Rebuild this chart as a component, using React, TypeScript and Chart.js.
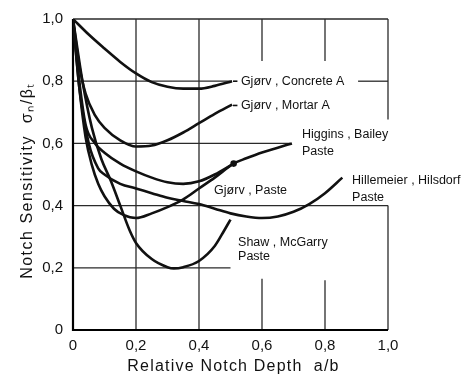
import React, { useEffect, useRef } from "react";
import { Chart, registerables } from "chart.js";

Chart.register(...registerables);

// ---- Data (x = relative notch depth a/b, y = sigma_n/beta_t) ----
const concreteAX = [0, 0.05, 0.1, 0.15, 0.2, 0.25, 0.3, 0.35, 0.4, 0.45, 0.505];
const concreteAY = [1.0, 0.95, 0.905, 0.862, 0.825, 0.797, 0.782, 0.776, 0.776, 0.785, 0.8];

const mortarAX = [0, 0.02, 0.04, 0.07, 0.1, 0.15, 0.2, 0.25, 0.3, 0.35, 0.4, 0.45, 0.505];
const mortarAY = [1.0, 0.85, 0.76, 0.69, 0.65, 0.61, 0.59, 0.593, 0.61, 0.635, 0.665, 0.695, 0.725];

const gjorvPasteX = [0, 0.02, 0.04, 0.07, 0.1, 0.15, 0.2, 0.25, 0.3, 0.35, 0.4, 0.45, 0.51];
const gjorvPasteY = [1.0, 0.8, 0.66, 0.6, 0.57, 0.535, 0.51, 0.49, 0.475, 0.47, 0.478, 0.5, 0.535];

const higginsX = [0, 0.02, 0.04, 0.06, 0.08, 0.1, 0.13, 0.16, 0.2, 0.25, 0.3, 0.35, 0.4, 0.45, 0.51, 0.55, 0.6, 0.65, 0.695];
const higginsY = [1.0, 0.78, 0.62, 0.53, 0.47, 0.43, 0.39, 0.37, 0.36, 0.375, 0.395, 0.42, 0.455, 0.49, 0.535, 0.552, 0.571, 0.586, 0.6];

const hillemeierX = [0, 0.02, 0.05, 0.08, 0.1, 0.15, 0.2, 0.25, 0.3, 0.35, 0.4, 0.45, 0.5, 0.55, 0.6, 0.65, 0.7, 0.75, 0.8, 0.855];
const hillemeierY = [1.0, 0.78, 0.6, 0.52, 0.5, 0.47, 0.455, 0.44, 0.425, 0.415, 0.405, 0.39, 0.375, 0.365, 0.36, 0.365, 0.38, 0.405, 0.44, 0.49];

const shawX = [0, 0.03, 0.06, 0.09, 0.12, 0.15, 0.18, 0.2, 0.25, 0.3, 0.32, 0.35, 0.4, 0.45, 0.48, 0.5];
const shawY = [1.0, 0.8, 0.65, 0.55, 0.48, 0.4, 0.32, 0.28, 0.228, 0.202, 0.198, 0.202, 0.222, 0.27, 0.32, 0.355];

const tickValues = [0, 0.2, 0.4, 0.6, 0.8, 1.0];
const seriesNames = [
  "Gjørv , Concrete A",
  "Gjørv , Mortar A",
  "Gjørv , Paste",
  "Higgins , Bailey Paste",
  "Hillemeier , Hilsdorf Paste",
  "Shaw , McGarry Paste",
];
const xTitle = "Relative Notch Depth  a/b";
const yTitle = "Notch Sensitivity  σₙ/βₜ";

const toPoints = (xs: number[], ys: number[]) => xs.map((x, i) => ({ x, y: ys[i] }));
const fmt = (v: number) => (Math.abs(v) < 1e-9 ? "0" : Number(v).toFixed(1).replace(".", ","));

const FONT = '"Liberation Sans", Arial, sans-serif';

const drawPlugin = {
  id: "paperDecor",
  beforeDatasetsDraw(chart: any) {
    const { ctx, scales } = chart;
    const xs = scales.x, ys = scales.y;
    const px = (v: number) => xs.getPixelForValue(v);
    const py = (v: number) => ys.getPixelForValue(v);
    ctx.save();
    ctx.strokeStyle = "#2a2a2a";
    ctx.lineWidth = 1.3;
    // horizontal grid segments: [y, x0, x1]
    const h: number[][] = [
      [1.0, 0, 1.0],
      [0.8, 0, 0.5],
      [0.8, 0.905, 1.0],
      [0.6, 0, 0.69],
      [0.4, 0, 1.0],
      [0.2, 0, 0.5],
    ];
    // vertical grid segments: [x, y0, y1]
    const v: number[][] = [
      [0.2, 0, 1.0],
      [0.4, 0, 1.0],
      [0.6, 0, 0.165],
      [0.6, 0.865, 1.0],
      [0.8, 0, 0.16],
      [0.8, 0.865, 1.0],
      [1.0, 0, 0.4],
      [1.0, 0.677, 1.0],
    ];
    h.forEach(([yv, a, b]) => {
      ctx.beginPath();
      ctx.moveTo(px(a), py(yv));
      ctx.lineTo(px(b), py(yv));
      ctx.stroke();
    });
    v.forEach(([xv, a, b]) => {
      ctx.beginPath();
      ctx.moveTo(px(xv), py(a));
      ctx.lineTo(px(xv), py(b));
      ctx.stroke();
    });
    // axes
    ctx.strokeStyle = "#000";
    ctx.lineWidth = 2.2;
    ctx.beginPath();
    ctx.moveTo(px(0), py(1.0));
    ctx.lineTo(px(0), py(0));
    ctx.lineTo(px(1.0), py(0));
    ctx.stroke();
    ctx.restore();
  },
  afterDatasetsDraw(chart: any) {
    const { ctx, scales } = chart;
    const xs = scales.x, ys = scales.y;
    const px = (v: number) => xs.getPixelForValue(v);
    const py = (v: number) => ys.getPixelForValue(v);
    ctx.save();
    ctx.fillStyle = "#111";
    ctx.strokeStyle = "#111";
    ctx.font = `12.5px ${FONT}`;
    ctx.textAlign = "left";
    ctx.textBaseline = "middle";
    const lab = (t: string, x: number, y: number) => ctx.fillText(t, px(x), py(y));
    // leaders
    ctx.lineWidth = 1.6;
    [[0.8], [0.722]].forEach(([yv]) => {
      ctx.beginPath();
      ctx.moveTo(px(0.508), py(yv));
      ctx.lineTo(px(0.522), py(yv));
      ctx.stroke();
    });
    lab(seriesNames[0], 0.533, 0.799);
    lab(seriesNames[1], 0.533, 0.722);
    const hb = seriesNames[3].split(" Paste");
    lab(hb[0], 0.727, 0.629);
    lab("Paste", 0.727, 0.573);
    lab(seriesNames[2], 0.448, 0.45);
    const hh = seriesNames[4].split(" Paste");
    lab(hh[0], 0.886, 0.479);
    lab("Paste", 0.886, 0.427);
    const sm = seriesNames[5].split(" Paste");
    lab(sm[0], 0.524, 0.281);
    lab("Paste", 0.524, 0.236);
    // axis titles
    const ca = chart.chartArea;
    ctx.font = `16px ${FONT}`;
    ctx.textAlign = "center";
    (ctx as any).letterSpacing = "1.2px";
    ctx.fillText(xTitle, (ca.left + ca.right) / 2 + 3, 367);
    (ctx as any).letterSpacing = "1.5px";
    ctx.translate(28, (ca.top + ca.bottom) / 2 + 6);
    ctx.rotate(-Math.PI / 2);
    ctx.fillText(yTitle, 0, 0);
    ctx.restore();
  },
};

export default function App() {
  const ref = useRef<HTMLCanvasElement | null>(null);
  useEffect(() => {
    if (!ref.current) return;
    const line = (xs: number[], ys: number[], label: string, endDot = false) => ({
      label,
      data: toPoints(xs, ys),
      borderColor: "#111",
      backgroundColor: "#111",
      borderWidth: 2.6,
      pointRadius: endDot ? xs.map((_, i) => (i === xs.length - 1 ? 2 : 0)) : 0,
      pointHoverRadius: 0,
      fill: false,
      cubicInterpolationMode: "monotone" as const,
    });
    const chart = new Chart(ref.current, {
      type: "line",
      data: {
        datasets: [
          line(concreteAX, concreteAY, seriesNames[0]),
          line(mortarAX, mortarAY, seriesNames[1]),
          line(gjorvPasteX, gjorvPasteY, seriesNames[2], true),
          line(higginsX, higginsY, seriesNames[3]),
          line(hillemeierX, hillemeierY, seriesNames[4]),
          line(shawX, shawY, seriesNames[5]),
        ],
      },
      options: {
        responsive: false,
        devicePixelRatio: 1,
        animation: false,
        events: [],
        layout: { padding: { left: 0, top: 17, right: 77, bottom: 0 } },
        plugins: { legend: { display: false }, tooltip: { enabled: false } },
        scales: {
          x: {
            type: "linear",
            min: 0,
            max: 1,
            afterBuildTicks: (s: any) => {
              s.ticks = tickValues.map((value) => ({ value }));
            },
            afterFit: (s: any) => {
              s.height = 48;
            },
            grid: { display: false, drawTicks: false },
            border: { display: false },
            ticks: {
              padding: 7,
              color: "#111",
              font: { family: FONT, size: 15 },
              callback: (v: any) => fmt(Number(v)),
              maxRotation: 0,
            },
          },
          y: {
            type: "linear",
            min: 0,
            max: 1,
            afterBuildTicks: (s: any) => {
              s.ticks = tickValues.map((value) => ({ value }));
            },
            afterFit: (s: any) => {
              s.width = 73;
            },
            grid: { display: false, drawTicks: false },
            border: { display: false },
            ticks: {
              padding: 10,
              color: "#111",
              font: { family: FONT, size: 15 },
              callback: (v: any) => fmt(Number(v)),
            },
          },
        },
      },
      plugins: [drawPlugin],
    });
    return () => chart.destroy();
  }, []);
  return (
    <div style={{ position: "fixed", left: 0, top: 0, width: 465, height: 378, background: "#fff" }}>
      <canvas ref={ref} width={465} height={378} style={{ display: "block" }} />
    </div>
  );
}
